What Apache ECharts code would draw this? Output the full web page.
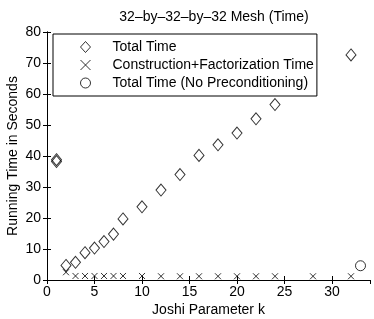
<!DOCTYPE html>
<html><head><meta charset="utf-8">
<script src="https://cdn.jsdelivr.net/npm/echarts@6/dist/echarts.min.js"></script>
<style>html,body{margin:0;padding:0;background:#fff}#c{width:374px;height:319px}</style>
</head><body><div id="c"></div>
<script>
const title = "32\u2013by\u201332\u2013by\u201332 Mesh (Time)";
const xLabel = "Joshi Parameter k";
const yLabel = "Running Time in Seconds";
const seriesNames = ["Total Time", "Construction+Factorization Time", "Total Time (No Preconditioning)"];
const totalK    = [1, 1, 2, 3, 4, 5, 6, 7, 8, 10, 12, 14, 16, 18, 20, 22, 24, 32];
const totalTime = [38.8, 38.2, 4.7, 5.7, 8.8, 10.3, 12.4, 14.8, 19.7, 23.6, 29.0, 34.0, 40.2, 43.6, 47.4, 52.0, 56.6, 72.6];
const consK    = [2, 3, 4, 5, 6, 7, 8, 10, 12, 14, 16, 18, 20, 22, 24, 28, 32];
const consTime = [2.5, 1.3, 1.3, 1.3, 1.3, 1.3, 1.3, 1.3, 1.2, 1.2, 1.2, 1.2, 1.2, 1.2, 1.2, 1.2, 1.2];
const noPrecK    = [33];
const noPrecTime = [4.6];
const xTicks = {min: 0, max: 34, interval: 5};
const yTicks = {min: 0, max: 80, interval: 10};

const font = "Liberation Sans, Arial, Helvetica, sans-serif";
const fs = 14;
const crossPath = "path://M0,0L10,10M10,0L0,10";
const zip = (a, b) => a.map((v, i) => [v, b[i]]);
const chart = echarts.init(document.getElementById('c'), null, {renderer: 'canvas'});
const axisCommon = {
  axisLine: {show: true, lineStyle: {color: '#000', width: 1}},
  axisTick: {show: true, inside: true, length: 4, lineStyle: {color: '#000'}},
  splitLine: {show: false}
};
const hollow = {color: 'rgba(0,0,0,0)', borderColor: '#000', borderWidth: 1};
chart.setOption({
  animation: false,
  backgroundColor: '#fff',
  title: {text: title, left: 209, top: 5, textAlign: 'center',
    textStyle: {fontFamily: font, fontSize: fs, fontWeight: 'normal', color: '#000'}},
  legend: {
    orient: 'vertical', left: 53, top: 34,
    padding: [5, 3, 5, 27], itemGap: 2,
    itemWidth: 10, itemHeight: 11,
    backgroundColor: '#fff', borderColor: '#000', borderWidth: 1, borderRadius: 0,
    itemStyle: {color: 'rgba(0,0,0,0)', borderColor: '#000', borderWidth: 1},
    textStyle: {fontFamily: font, fontSize: fs, color: '#000', lineHeight: 16, padding: [0, 0, 0, 17]},
    data: [
      {name: seriesNames[0], icon: 'diamond'},
      {name: seriesNames[1], icon: crossPath, itemStyle: {borderWidth: 1}},
      {name: seriesNames[2], icon: 'circle'}
    ]
  },
  grid: {left: 47, right: 4, top: 32, bottom: 39, containLabel: false, outerBoundsMode: 'none'},
  xAxis: [
    Object.assign({type: 'value', min: xTicks.min, max: xTicks.max, interval: xTicks.interval,
      name: xLabel, nameLocation: 'middle', nameGap: 23, nameMoveOverlap: false,
      nameTextStyle: {fontFamily: font, fontSize: fs, color: '#000'},
      axisLabel: {fontFamily: font, fontSize: fs, color: '#000', margin: 5,
        formatter: v => (v > 30 ? '' : v), showMaxLabel: false}}, axisCommon),
    Object.assign({type: 'value', position: 'top', min: xTicks.min, max: xTicks.max, interval: xTicks.interval,
      axisLabel: {show: false}}, axisCommon)
  ],
  yAxis: [
    Object.assign({type: 'value', min: yTicks.min, max: yTicks.max, interval: yTicks.interval,
      name: yLabel, nameLocation: 'middle', nameGap: 27, nameMoveOverlap: false,
      nameTextStyle: {fontFamily: font, fontSize: fs, color: '#000'},
      axisLabel: {fontFamily: font, fontSize: fs, color: '#000', margin: 6}}, axisCommon),
    Object.assign({type: 'value', position: 'right', min: yTicks.min, max: yTicks.max, interval: yTicks.interval,
      axisLabel: {show: false}}, axisCommon)
  ],
  series: [
    {name: seriesNames[0], type: 'scatter', data: zip(totalK, totalTime), symbol: 'diamond', symbolSize: [10, 12],
      itemStyle: hollow},
    {name: seriesNames[1], type: 'scatter', data: zip(consK, consTime), symbol: crossPath, symbolSize: 6,
      itemStyle: hollow},
    {name: seriesNames[2], type: 'scatter', data: zip(noPrecK, noPrecTime), symbol: 'circle', symbolSize: 10,
      itemStyle: hollow}
  ]
});
</script></body></html>
